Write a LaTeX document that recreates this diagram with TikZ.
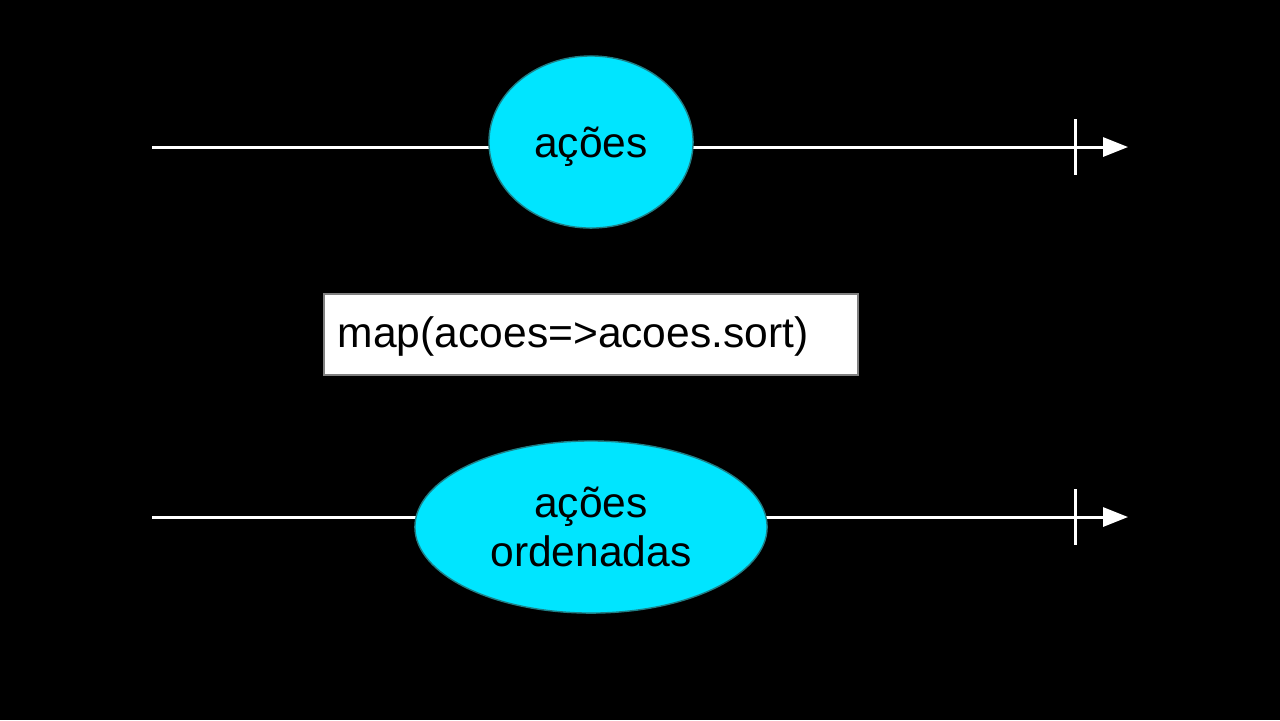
\documentclass[tikz,border=0pt]{standalone}
\usepackage{fontspec}
\setmainfont{Liberation Sans}
\usetikzlibrary{shapes.geometric}
\usetikzlibrary{arrows.meta}

\definecolor{streamcyan}{HTML}{00E5FF}
\definecolor{streamedge}{HTML}{1F7F86}

\begin{document}
\begin{tikzpicture}[x=0.01cm, y=-0.01cm,
    every node/.style={font=\fontsize{12.1}{13.9}\selectfont},
    timeline/.style={draw=white, line width=0.85pt, -{Triangle[length=0.25cm, width=0.19cm]}},
    endtick/.style={draw=white, line width=0.85pt},
    marble/.style={ellipse, fill=streamcyan, draw=streamedge, line width=0.4pt, inner sep=0pt, align=center},
    opbox/.style={fill=white, draw=gray, line width=0.4pt, inner xsep=0.14cm, inner ysep=0pt, text width=5.06cm,
        text height=0.31cm, text depth=0.06cm, minimum height=0.81cm, align=left}]
\useasboundingbox (0,0) rectangle (1280,720);
\fill[black] (0,0) rectangle (1280,720);

% source stream
\coordinate (s0) at (152,147);
\coordinate (e0) at (1128,147);
\draw[timeline] (s0) -- (e0);
\draw[endtick] (1075,119) -- (1075,175);
\node[marble, minimum width=2.04cm, minimum height=1.72cm, text height=0.39cm, text depth=0.09cm] (acoes) at (591,142) {ações};

% operator
\node[opbox] (op) at (591,334.5) {map(acoes=>acoes.sort)};

% result stream
\coordinate (s1) at (152,517);
\coordinate (e1) at (1128,517);
\draw[timeline] (s1) -- (e1);
\draw[endtick] (1075,489) -- (1075,545);
\node[marble, minimum width=3.52cm, minimum height=1.72cm] (ordenadas) at (591,527) {ações\\ordenadas};
\end{tikzpicture}
\end{document}
